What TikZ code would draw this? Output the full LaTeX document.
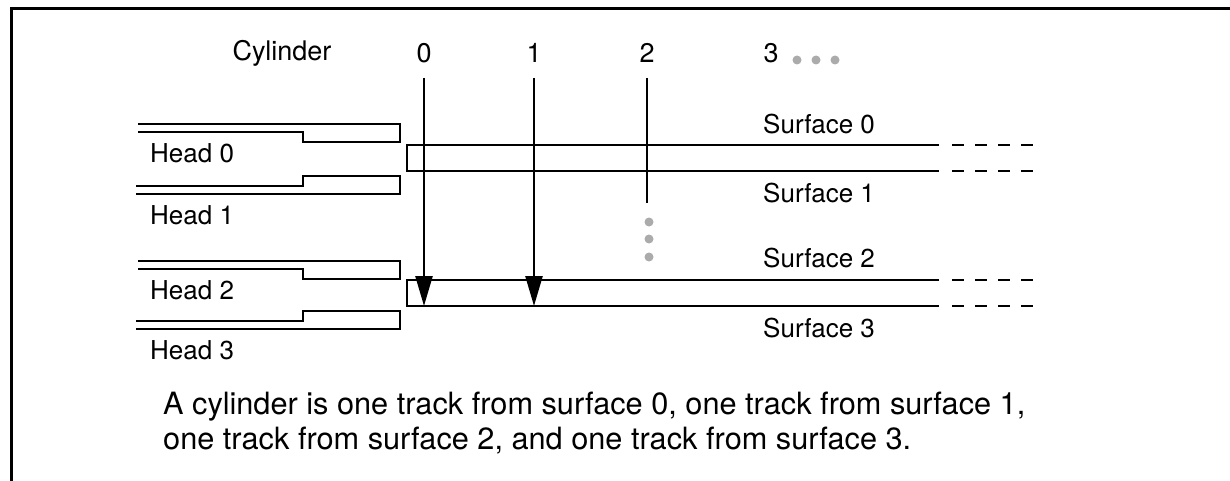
\documentclass[tikz,border=0pt]{standalone}
\usepackage{fontspec}
\setmainfont{TeX Gyre Heros}
\usetikzlibrary{arrows.meta,positioning}

\begin{document}
\begin{tikzpicture}[%
    x=1pt, y=-1pt,                            % One unit is one pixel of the drawing
    >={Triangle[length=30pt,width=17pt]},     % Long narrow heads on the cylinders
    ]
% -------------------------------------------------
% A few styles
\tikzset{
  base/.style={inner sep=0pt, font=\fontsize{26}{30}\selectfont},
  cyl/.style={base, font=\fontsize{27}{30}\selectfont},
  lbl/.style={base, anchor=west},
  % Line styles for the heads, the tracks and the cylinders
  arm/.style={draw, line width=2pt},
  trk/.style={draw, line width=2pt},
  far/.style={trk, dash pattern=on 12pt off 11pt},
  to/.style={->, line width=2.5pt},
  dot/.style={circle, fill=black!33, minimum size=9pt, inner sep=0pt},
}
\useasboundingbox (0,0) rectangle (1230,481);
\draw[line width=3pt] (11,481) -- (11,9) -- (1230,9);

% -------------------------------------------------
% Cylinder numbers along the top
\node [cyl] (cyl) at (282,53) {Cylinder};
\node [cyl] (c0) at (424,53) {0};
\node [cyl] (c1) at (534,53) {1};
\node [cyl] (c2) at (647,53) {2};
\node [cyl] (c3) at (771,53) {3};
\foreach \x [count=\i] in {797,816,835}
  \node [dot] (more\i) at (\x,60) {};

% Heads and surfaces
\node [lbl] (h0) at (150,153) {Head 0};
\node [lbl] (h1) at (150,215) {Head 1};
\node [lbl] (h2) at (150,290) {Head 2};
\node [lbl] (h3) at (150,350) {Head 3};
\node [lbl] (s0) at (763,124) {Surface 0};
\node [lbl] (s1) at (763,193) {Surface 1};
\node [lbl] (s2) at (763,258) {Surface 2};
\node [lbl] (s3) at (763,328) {Surface 3};

\node [base, anchor=north west, align=left,
       font=\fontsize{30.7}{35}\selectfont] (note) at (163,392)
  {A cylinder is one track from surface 0, one track from surface 1,\\
   one track from surface 2, and one track from surface 3.};

% -------------------------------------------------
% Platters: left edge, two tracks, and the dashed rest
\foreach \y/\n in {145/0,280/1} {
  \coordinate (up\n) at (407,\y);
  \coordinate (lo\n) at (407,\y+26);
  \draw[trk] (939,\y) -- (up\n) -- (lo\n) -- (939,\y+26);
  \draw[far] (952,\y) -- (1033,\y);
  \draw[far] (952,\y+26) -- (1033,\y+26);
}

% Head arms above and below each platter
\foreach \y in {124,261}
  \draw[arm] (138,\y) -- (400,\y) -- (400,\y+18) -- (303,\y+18)
             -- (303,\y+8) -- (138,\y+8);
\foreach \y in {176,311}
  \draw[arm] (136,\y+18) -- (400,\y+18) -- (400,\y) -- (303,\y)
             -- (303,\y+10) -- (136,\y+10);

% -------------------------------------------------
% Cylinders through the platters
\coordinate (t0) at (c0 |- 0,78);
\coordinate (t1) at (c1 |- 0,78);
\coordinate (t2) at (c2 |- 0,78);
\coordinate (e0) at (c0 |- lo1);
\coordinate (e1) at (c1 |- lo1);
\coordinate (e2) at (c2 |- 0,203);
\draw[to] (t0) -- (e0);
\draw[to] (t1) -- (e1);
\draw[line width=2.5pt] (t2) -- (e2);
\foreach \y [count=\i] in {222,239,257}
  \node [dot] (gap\i) at (649,\y) {};

% -------------------------------------------------
\end{tikzpicture}
\end{document}
